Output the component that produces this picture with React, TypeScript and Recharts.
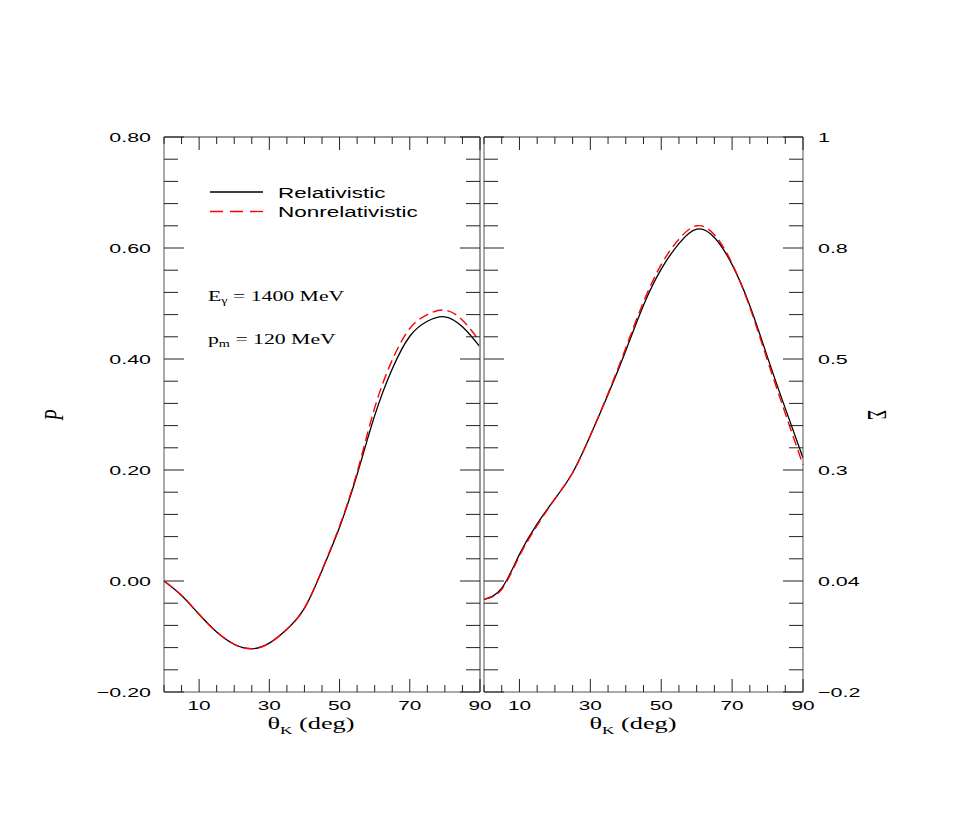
import { LineChart, Line, XAxis, YAxis } from 'recharts'

// kaon angle in degrees
const angles = [0, 5, 10, 15, 20, 25, 30, 35, 40, 45, 50, 55, 60, 65, 70, 75, 80, 85, 90]

// left panel: recoil polarization P
const polRel = [0.0, -0.026, -0.06, -0.092, -0.114, -0.122, -0.112, -0.087, -0.049, 0.019, 0.097, 0.192, 0.298, 0.382, 0.441, 0.468, 0.476, 0.458, 0.422]
const polNonrel = [0.0, -0.026, -0.06, -0.092, -0.114, -0.122, -0.112, -0.087, -0.049, 0.02, 0.099, 0.196, 0.312, 0.398, 0.455, 0.48, 0.488, 0.47, 0.431]

// right panel: photon asymmetry Sigma (plotted on the same frame scale)
const sigRel = [-0.033, -0.013, 0.048, 0.103, 0.148, 0.195, 0.262, 0.336, 0.415, 0.497, 0.562, 0.608, 0.634, 0.619, 0.57, 0.496, 0.403, 0.311, 0.222]
const sigNonrel = [-0.033, -0.015, 0.045, 0.1, 0.148, 0.195, 0.262, 0.338, 0.42, 0.503, 0.57, 0.616, 0.64, 0.624, 0.572, 0.493, 0.397, 0.302, 0.209]

const xTicks = [0, 5, 10, 15, 20, 25, 30, 35, 40, 45, 50, 55, 60, 65, 70, 75, 80, 85, 90]
const xLabels = [10, 30, 50, 70, 90]
const yMajor = [-0.2, 0, 0.2, 0.4, 0.6, 0.8]
const leftLabels = ['\u22120.20', '0.00', '0.20', '0.40', '0.60', '0.80']
const rightLabels = ['\u22120.2', '0.04', '0.3', '0.5', '0.8', '1']

const yTicks = Array.from({ length: 26 }, (_, i) => Math.round((-0.2 + i * 0.04) * 100) / 100)

const leftData = angles.map((a, i) => ({ angle: a, rel: polRel[i], nonrel: polNonrel[i] }))
const rightData = angles.map((a, i) => ({ angle: a, rel: sigRel[i], nonrel: sigNonrel[i] }))

const SANS = '"Liberation Sans", Arial, Helvetica, sans-serif'
const SERIF = '"Liberation Serif", "Times New Roman", serif'
const FRAME = '#555'
const TICK = '#222'

// frame position inside each chart (chart top is the page top)
const PLOT_TOP = 137
const PLOT_BOTTOM = 692

const majorIdx = (v: number) => yMajor.findIndex((m) => Math.abs(m - v) < 1e-6)

function XTick(props: any) {
  const { payload, side, showLabels } = props
  const cx = payload.coordinate
  const major = xLabels.includes(payload.value)
  const len = major ? 13 : 7
  const edge = side === 'top' ? PLOT_TOP : PLOT_BOTTOM
  const dir = side === 'top' ? 1 : -1
  return (
    <g>
      <line x1={cx} x2={cx} y1={edge} y2={edge + dir * len} stroke={TICK} strokeWidth={1} />
      {showLabels && major && (
        <text
          transform={`translate(${cx},${edge + 18}) scale(1.6,1)`}
          textAnchor="middle"
          fontSize={13}
          fontFamily={SANS}
          fill="#000"
        >
          {payload.value}
        </text>
      )}
    </g>
  )
}

function YTick(props: any) {
  const { payload, side, edge, labels } = props
  const cy = payload.coordinate
  const mi = majorIdx(payload.value)
  const len = mi >= 0 ? 20 : 14
  const dir = side === 'left' ? 1 : -1
  return (
    <g>
      <line x1={edge} x2={edge + dir * len} y1={cy} y2={cy} stroke={TICK} strokeWidth={1} />
      {labels && mi >= 0 && (
        <text
          transform={`translate(${side === 'left' ? edge - 13 : edge + 15},${cy}) scale(1.65,1)`}
          textAnchor={side === 'left' ? 'end' : 'start'}
          dy="0.36em"
          fontSize={13}
          fontFamily={SANS}
          fill="#000"
        >
          {labels[mi]}
        </text>
      )}
    </g>
  )
}

function Panel({ data, width, leftWidth, rightWidth, leftLabelSet, rightLabelSet, rightEdge }: any) {
  const plotLeft = leftWidth
  const plotRight = width - rightWidth
  return (
    <LineChart width={width} height={760} data={data} margin={{ top: 107, right: 0, bottom: 38, left: 0 }}>
      <XAxis
        xAxisId="b"
        type="number"
        dataKey="angle"
        domain={[0, 90]}
        ticks={xTicks}
        interval={0}
        height={30}
        tickLine={false}
        tickSize={0}
        tickMargin={0}
        axisLine={{ stroke: FRAME }}
        tick={(p: any) => <XTick {...p} side="bottom" showLabels />}
      />
      <XAxis
        xAxisId="t"
        orientation="top"
        type="number"
        dataKey="angle"
        domain={[0, 90]}
        ticks={xTicks}
        interval={0}
        height={30}
        tickLine={false}
        tickSize={0}
        tickMargin={0}
        axisLine={{ stroke: '#333' }}
        tick={(p: any) => <XTick {...p} side="top" />}
      />
      <YAxis
        yAxisId="l"
        type="number"
        domain={[-0.2, 0.8]}
        ticks={yTicks}
        interval={0}
        width={leftWidth}
        tickLine={false}
        tickSize={0}
        tickMargin={0}
        axisLine={{ stroke: FRAME }}
        tick={(p: any) => <YTick {...p} side="left" edge={plotLeft} labels={leftLabelSet} />}
      />
      <YAxis
        yAxisId="r"
        orientation="right"
        type="number"
        dataKey="rel"
        domain={[-0.2, 0.8]}
        ticks={yTicks}
        interval={0}
        width={rightWidth}
        tickLine={false}
        tickSize={0}
        tickMargin={0}
        axisLine={rightEdge}
        tick={(p: any) => <YTick {...p} side="right" edge={plotRight} labels={rightLabelSet} />}
      />
      {/* invisible copy so the mirrored top/right axes get a domain */}
      <Line
        xAxisId="t"
        yAxisId="r"
        type="natural"
        dataKey="rel"
        stroke="none"
        dot={false}
        activeDot={false}
        legendType="none"
        isAnimationActive={false}
      />
      <Line
        xAxisId="b"
        yAxisId="l"
        type="natural"
        dataKey="rel"
        stroke="#000"
        strokeWidth={1.3}
        dot={false}
        activeDot={false}
        isAnimationActive={false}
      />
      <Line
        xAxisId="b"
        yAxisId="l"
        type="natural"
        dataKey="nonrel"
        stroke="#ff0000"
        strokeWidth={1.4}
        strokeDasharray="10 5"
        dot={false}
        activeDot={false}
        isAnimationActive={false}
      />
    </LineChart>
  )
}

export default function App() {
  return (
    <div style={{ position: 'absolute', left: 0, top: 0, width: 969, height: 830, background: '#fff' }}>
      <div style={{ position: 'absolute', left: 0, top: 0 }}>
        <Panel
          data={leftData}
          width={500}
          leftWidth={164}
          rightWidth={20}
          leftLabelSet={leftLabels}
          rightLabelSet={null}
          rightEdge={{ stroke: '#999', strokeWidth: 2 }}
        />
      </div>
      <div style={{ position: 'absolute', left: 474, top: 0 }}>
        <Panel
          data={rightData}
          width={440}
          leftWidth={10}
          rightWidth={111}
          leftLabelSet={null}
          rightLabelSet={rightLabels}
          rightEdge={{ stroke: FRAME }}
        />
      </div>
      <svg
        width={969}
        height={830}
        style={{ position: 'absolute', left: 0, top: 0, pointerEvents: 'none' }}
      >
        {/* legend */}
        <line x1={210} x2={263} y1={192} y2={192} stroke="#000" strokeWidth={1.3} />
        <text transform="translate(278,197.5) scale(1.45,1)" fontSize={15.5} fontFamily={SANS}>
          Relativistic
        </text>
        <line x1={210} x2={263} y1={211.5} y2={211.5} stroke="#ff0000" strokeWidth={1.3} strokeDasharray="13 7" />
        <text transform="translate(278,217) scale(1.45,1)" fontSize={15.5} fontFamily={SANS}>
          Nonrelativistic
        </text>

        {/* kinematics */}
        <text transform="translate(208,301) scale(1.5,1)" fontSize={14.5} fontFamily={SERIF}>
          E<tspan fontSize={9.5} dy={3}>γ</tspan>
          <tspan dy={-3}> = 1400 MeV</tspan>
        </text>
        <text transform="translate(208,344) scale(1.5,1)" fontSize={14.5} fontFamily={SERIF}>
          p<tspan fontSize={9.5} dy={3}>m</tspan>
          <tspan dy={-3}> = 120 MeV</tspan>
        </text>

        {/* axis titles */}
        <text transform="translate(311,729) scale(1.55,1)" textAnchor="middle" fontSize={17} fontFamily={SERIF}>
          θ<tspan fontSize={11} dy={5}>K</tspan>
          <tspan dy={-5}> (deg)</tspan>
        </text>
        <text transform="translate(633,729) scale(1.55,1)" textAnchor="middle" fontSize={17} fontFamily={SERIF}>
          θ<tspan fontSize={11} dy={5}>K</tspan>
          <tspan dy={-5}> (deg)</tspan>
        </text>
        <text
          transform="translate(54,415) scale(1.5,1) rotate(-90)"
          textAnchor="middle"
          dominantBaseline="central"
          fontSize={18}
          fontStyle="italic"
          fontFamily={SERIF}
        >
          P
        </text>
        <text
          transform="translate(877,415) scale(1.6,1) rotate(90)"
          textAnchor="middle"
          dominantBaseline="central"
          fontSize={17}
          fontFamily={SERIF}
        >
          Σ
        </text>
      </svg>
    </div>
  )
}
